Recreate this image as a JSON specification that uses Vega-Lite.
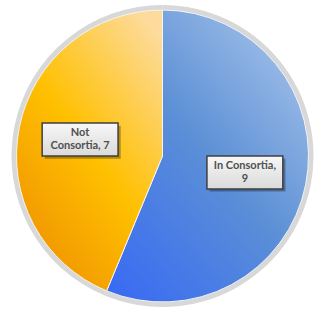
{
  "$schema": "https://vega.github.io/schema/vega-lite/v6.json",
  "autosize": "none",
  "width": 300,
  "height": 300,
  "padding": {"left": 12.5, "top": 6, "right": 2.5, "bottom": 3},
  "background": "white",
  "config": {"view": {"stroke": null}},
  "data": {
    "values": [
      {"cat": "In Consortia", "n": 9, "label": ["In Consortia,", "9"]},
      {"cat": "Not Consortia", "n": 7, "label": ["Not", "Consortia, 7"]}
    ]
  },
  "transform": [
    {"window": [{"op": "sum", "field": "n", "as": "cum"}]},
    {"joinaggregate": [{"op": "sum", "field": "n", "as": "total"}]},
    {"calculate": "(datum.cum - datum.n / 2) / datum.total * 2 * PI", "as": "mid"},
    {"calculate": "84 * sin(datum.mid)", "as": "lx"},
    {"calculate": "84 * cos(datum.mid)", "as": "ly"}
  ],
  "layer": [
    {
      "mark": {"type": "arc", "radius": 151, "fill": "#d8d8d8", "stroke": null},
      "encoding": {"theta": {"field": "n", "type": "quantitative", "stack": true}}
    },
    {
      "mark": {"type": "arc", "radius": 146, "stroke": "#f4f4f4", "strokeWidth": 1},
      "encoding": {
        "theta": {"field": "n", "type": "quantitative", "stack": true},
        "fill": {
          "condition": {
            "test": "datum.cat === 'Not Consortia'",
            "value": {
              "gradient": "linear", "x1": 0.85, "y1": 0, "x2": 0.15, "y2": 1,
              "stops": [
                {"offset": 0, "color": "#fddb9c"},
                {"offset": 0.5, "color": "#ffc000"},
                {"offset": 1, "color": "#ee8e00"}
              ]
            }
          },
          "value": {
            "gradient": "linear", "x1": 0.9, "y1": 0, "x2": 0.1, "y2": 1,
            "stops": [
              {"offset": 0, "color": "#a9c5ea"},
              {"offset": 0.5, "color": "#5b8fd6"},
              {"offset": 1, "color": "#3a6cf2"}
            ]
          }
        }
      }
    },
    {
      "mark": {
        "type": "point",
        "shape": "M-1.07,-0.42H1.23V0.58H-1.07Z",
        "size": 4356,
        "filled": true,
        "opacity": 0.3,
        "fill": "#000000",
        "stroke": null
      },
      "encoding": {
        "x": {"field": "lx", "type": "quantitative", "scale": {"domain": [-150, 150], "nice": false, "zero": false}, "axis": null},
        "y": {"field": "ly", "type": "quantitative", "scale": {"domain": [-150, 150], "nice": false, "zero": false}, "axis": null}
      }
    },
    {
      "mark": {
        "type": "point",
        "shape": "M-1.15,-0.5H1.15V0.5H-1.15Z",
        "size": 4356,
        "filled": true,
        "opacity": 1,
        "fill": {
          "gradient": "linear", "x1": 0, "y1": 0, "x2": 0, "y2": 1,
          "stops": [
            {"offset": 0, "color": "#f7f7f7"},
            {"offset": 1, "color": "#dadada"}
          ]
        },
        "stroke": "#3f3f3f",
        "strokeWidth": 1.5
      },
      "encoding": {
        "x": {"field": "lx", "type": "quantitative", "scale": {"domain": [-150, 150], "nice": false, "zero": false}, "axis": null},
        "y": {"field": "ly", "type": "quantitative", "scale": {"domain": [-150, 150], "nice": false, "zero": false}, "axis": null}
      }
    },
    {
      "mark": {
        "type": "text",
        "font": "Lato",
        "fontWeight": "bold",
        "fontSize": 11,
        "lineHeight": 13,
        "color": "#505050",
        "align": "center",
        "baseline": "middle",
        "dy": -6.5
      },
      "encoding": {
        "x": {"field": "lx", "type": "quantitative", "scale": {"domain": [-150, 150], "nice": false, "zero": false}, "axis": null},
        "y": {"field": "ly", "type": "quantitative", "scale": {"domain": [-150, 150], "nice": false, "zero": false}, "axis": null},
        "text": {"field": "label"}
      }
    }
  ]
}
